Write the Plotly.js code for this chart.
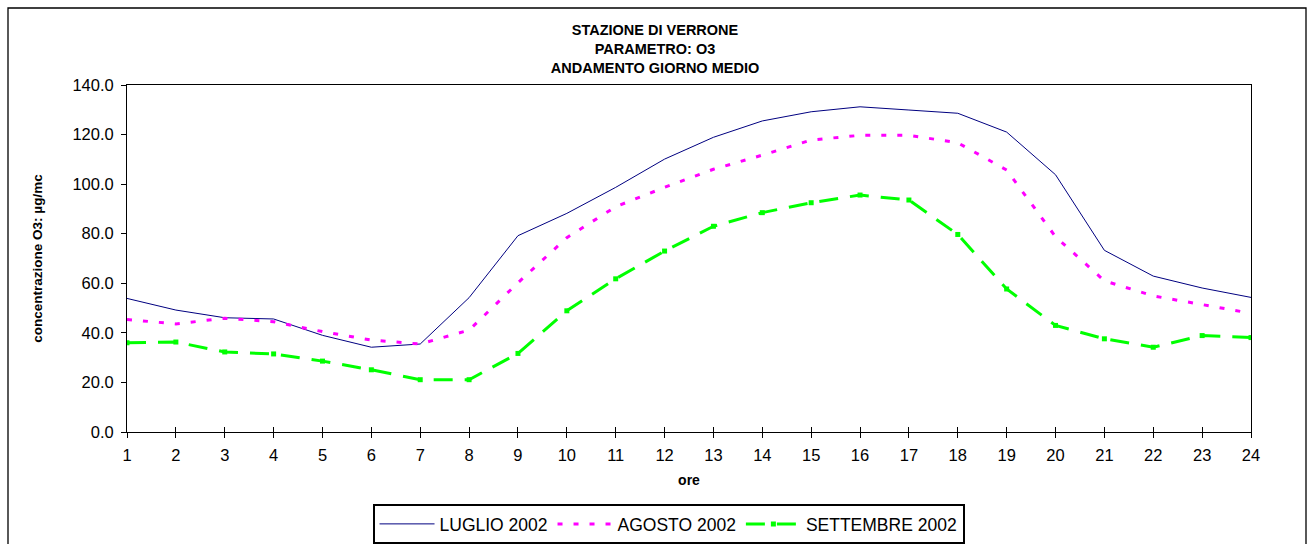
<!DOCTYPE html>
<html>
<head>
<meta charset="utf-8">
<script src="https://cdn.plot.ly/plotly-3.0.1.min.js"></script>
<style>
  html, body { margin: 0; padding: 0; background: #fff; }
  #chart { width: 1310px; height: 544px; }
</style>
</head>
<body>
<div id="chart"></div>
<script>
const hours = [1, 2, 3, 4, 5, 6, 7, 8, 9, 10, 11, 12, 13, 14, 15, 16, 17, 18, 19, 20, 21, 22, 23, 24];
const luglio = [53.9, 49.2, 46.1, 45.6, 39.0, 34.2, 35.5, 54.2, 79.2, 88.2, 98.7, 110.1, 118.9, 125.5, 129.2, 131.2, 129.9, 128.6, 121.0, 103.8, 73.3, 62.9, 58.1, 54.3];
const agosto = [45.4, 43.6, 45.9, 44.5, 40.5, 37.1, 35.5, 41.1, 60.2, 78.4, 90.9, 98.7, 106.0, 111.7, 117.8, 119.7, 119.7, 116.7, 105.7, 78.8, 61.0, 54.9, 51.4, 47.9];
const settembre = [36.0, 36.3, 32.3, 31.5, 28.6, 25.1, 21.1, 21.1, 31.7, 48.9, 61.8, 73.0, 83.0, 88.5, 92.5, 95.6, 93.6, 79.7, 57.7, 43.0, 37.6, 34.2, 38.9, 38.1];
const seriesNames = ['LUGLIO 2002', 'AGOSTO 2002', 'SETTEMBRE 2002'];
const titleLines = ['STAZIONE DI VERRONE', 'PARAMETRO: O3', 'ANDAMENTO GIORNO MEDIO'];
const yTitle = 'concentrazione O3: µg/mc';
const xTitle = 'ore';

const FONT = 'Arial, "Liberation Sans", sans-serif';

const traces = [
  {
    x: hours, y: luglio, name: seriesNames[0], type: 'scatter', mode: 'lines',
    line: { color: '#000080', width: 1 }
  },
  {
    x: hours, y: agosto, name: seriesNames[1], type: 'scatter', mode: 'lines',
    line: { color: '#FF00FF', width: 3, dash: '5px,11px' }
  },
  {
    x: hours, y: settembre, name: seriesNames[2], type: 'scatter', mode: 'lines+markers',
    line: { color: '#00FF00', width: 3, dash: '19px,12px' },
    marker: { symbol: 'square', size: 5, color: '#00FF00' }
  },
  {
    x: hours, y: hours.map(() => null), xaxis: 'x2', yaxis: 'y', type: 'scatter',
    mode: 'lines', showlegend: false, hoverinfo: 'skip'
  }
];

const layout = {
  width: 1310, height: 544,
  margin: { l: 127, r: 59, t: 85, b: 112, autoexpand: false },
  paper_bgcolor: '#ffffff', plot_bgcolor: '#ffffff',
  font: { family: FONT, color: '#000000' },
  title: {
    text: titleLines.join('<br>'),
    font: { family: FONT, size: 14.5, color: '#000', weight: 'bold' },
    x: 0.5, xref: 'container', xanchor: 'center',
    y: 1 - 35 / 544, yref: 'container', yanchor: 'top'
  },
  xaxis: {
    range: [1, 24], tickmode: 'array', tickvals: hours, ticktext: hours.map(String),
    showline: true, linecolor: '#000', linewidth: 1, mirror: true,
    ticks: 'outside', ticklen: 5, tickcolor: '#000', tickwidth: 1,
    ticklabelstandoff: 3,
    showgrid: false, zeroline: false, automargin: false,
    tickfont: { family: FONT, size: 16.5, color: '#000' },
    title: { text: xTitle, font: { family: FONT, size: 14, color: '#000', weight: 'bold' }, standoff: 12 }
  },
  xaxis2: {
    range: [1, 24], overlaying: 'x', anchor: 'y', side: 'bottom',
    tickmode: 'array', tickvals: hours, showticklabels: false,
    ticks: 'inside', ticklen: 5, tickcolor: '#000', tickwidth: 1,
    showline: false, showgrid: false, zeroline: false
  },
  yaxis: {
    range: [0, 140], dtick: 20, tick0: 0, tickformat: '.1f',
    showline: true, linecolor: '#000', linewidth: 1, mirror: true,
    ticks: 'outside', ticklen: 5, tickcolor: '#000', tickwidth: 1,
    ticklabelstandoff: 4,
    showgrid: false, zeroline: false, automargin: false,
    tickfont: { family: FONT, size: 16.5, color: '#000' },
    title: { text: yTitle, font: { family: FONT, size: 13.5, color: '#000', weight: 'bold' }, standoff: 26 }
  },
  legend: {
    orientation: 'h', x: 0.4818, xanchor: 'center', y: (432 - 504) / 347, yanchor: 'top',
    bordercolor: '#000', borderwidth: 2, bgcolor: '#fff',
    font: { family: FONT, size: 17.5, color: '#000' },
    itemwidth: 55
  },
  shapes: [
    { type: 'rect', xref: 'paper', yref: 'paper',
      x0: (8 - 127) / 1124, x1: (1306 - 127) / 1124,
      y0: (432 - 560) / 347, y1: (432 - 8) / 347,
      line: { color: '#000', width: 1.3 }, fillcolor: 'rgba(0,0,0,0)', layer: 'below' }
  ],
  showlegend: true
};

Plotly.newPlot('chart', traces, layout, { displayModeBar: false, staticPlot: true });
</script>
</body>
</html>
